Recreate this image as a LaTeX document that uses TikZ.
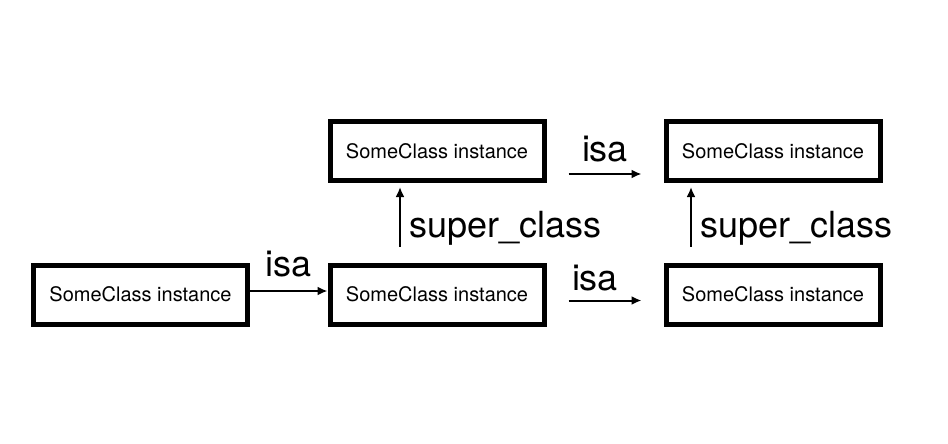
\documentclass[tikz,border=0pt]{standalone}
\usepackage{fontspec}
\setmainfont{TeX Gyre Heros}
\usetikzlibrary{arrows.meta}

\tikzset{
  instance/.style={draw=black,line width=2.5pt,minimum width=107pt,minimum height=29.5pt,
    inner sep=0pt,font=\fontsize{10}{12}\selectfont},
  link/.style={line width=1pt,-{Latex[length=5pt,width=4.5pt]}},
  lbl/.style={font=\fontsize{18}{22}\selectfont}
}

\begin{document}
\begin{tikzpicture}[x=0.5pt,y=-0.5pt]
        \useasboundingbox (0,0) rectangle (948,444);

        \node[instance] (obj) at (140.5,294.5) {SomeClass instance};
        \node[instance] (cls) at (437,294.5) {SomeClass instance};
        \node[instance] (meta) at (773,294.5) {SomeClass instance};
        \node[instance] (super) at (437,151) {SomeClass instance};
        \node[instance] (supermeta) at (773,151) {SomeClass instance};

        \draw[link] ([yshift=1.75pt]obj.east) -- node[lbl,above=3pt]{isa} ([yshift=1.75pt]cls.west);
        \draw[link,shorten <=11pt,shorten >=11pt] ([yshift=-3pt]cls.east) -- node[lbl,above=1pt,xshift=-5pt]{isa} ([yshift=-3pt]meta.west);
        \draw[link,shorten <=11pt,shorten >=11pt] ([yshift=-11.5pt]super.east) -- node[lbl,above=2pt]{isa} ([yshift=-11.5pt]supermeta.west);

        \draw[link,shorten <=8pt,shorten >=2pt] ([xshift=-18.5pt]cls.north) -- node[lbl,right=1pt,yshift=-3pt]{super\_class} ([xshift=-18.5pt]super.south);
        \draw[link,shorten <=8pt,shorten >=2pt] ([xshift=-41pt]meta.north) -- node[lbl,right=1pt,yshift=-3pt]{super\_class} ([xshift=-41pt]supermeta.south);
\end{tikzpicture}
\end{document}
